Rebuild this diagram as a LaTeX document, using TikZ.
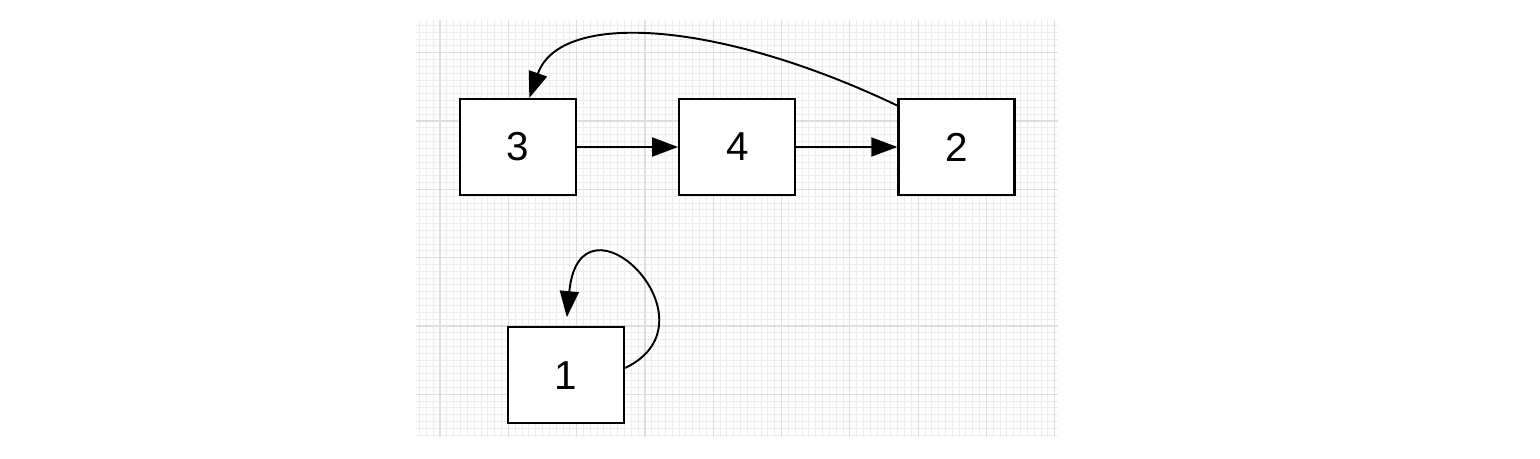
\documentclass[tikz,border=0pt]{standalone}
\usepackage{fontspec}
\setmainfont{Liberation Sans}
\usetikzlibrary{arrows.meta, positioning}
\tikzset{
    box/.style = {draw, fill=white, rectangle, line width=1.3pt, minimum width=2.32cm, minimum height=1.92cm, inner sep=0pt, font=\fontsize{23}{27}\selectfont},
    arr/.style = {line width=1.1pt, -{Triangle[length=0.52cm, width=0.38cm]}},
    minor/.style = {draw=black!7, line width=0.5pt},
    major/.style = {draw=black!13, line width=0.7pt}
}
\begin{document}
\begin{tikzpicture}[x=0.02cm, y=0.02cm]
    \useasboundingbox (0,0) rectangle (1540,458);
    % grid paper
    \foreach \i in {-3,...,90}
        \draw[minor] ({440+\i*6.83},21) -- ({440+\i*6.83},438);
    \foreach \j in {-56,...,4}
        \draw[minor] (416,{405.3+\j*6.83}) -- (1058,{405.3+\j*6.83});
    \foreach \i in {0,...,9}
        \draw[major] ({440+\i*68.3},21) -- ({440+\i*68.3},438);
    \foreach \j in {-5,...,0}
        \draw[major] (416,{405.3+\j*68.3}) -- (1058,{405.3+\j*68.3});

    \def\boxsep{2.02cm}
    \node (box3) [box] at (518,311) {3};
    \node (box4) [box,right=\boxsep of box3] {4};
    \node (box2) [box,right=\boxsep of box4] {2};
    \node (box1) [box,below=2.6cm of box3,xshift=0.96cm] {1};

    \draw[arr] (box3) -- (box4);
    \draw[arr] (box4) -- (box2);
    \draw[arr] (box2.145) .. controls +(-178,85) and +(31,88) .. (box3.77);
    \draw[arr,shorten >=0.18cm] (box1.7) .. controls +(98,47) and +(14,145) .. (box1.north);
\end{tikzpicture}
\end{document}
